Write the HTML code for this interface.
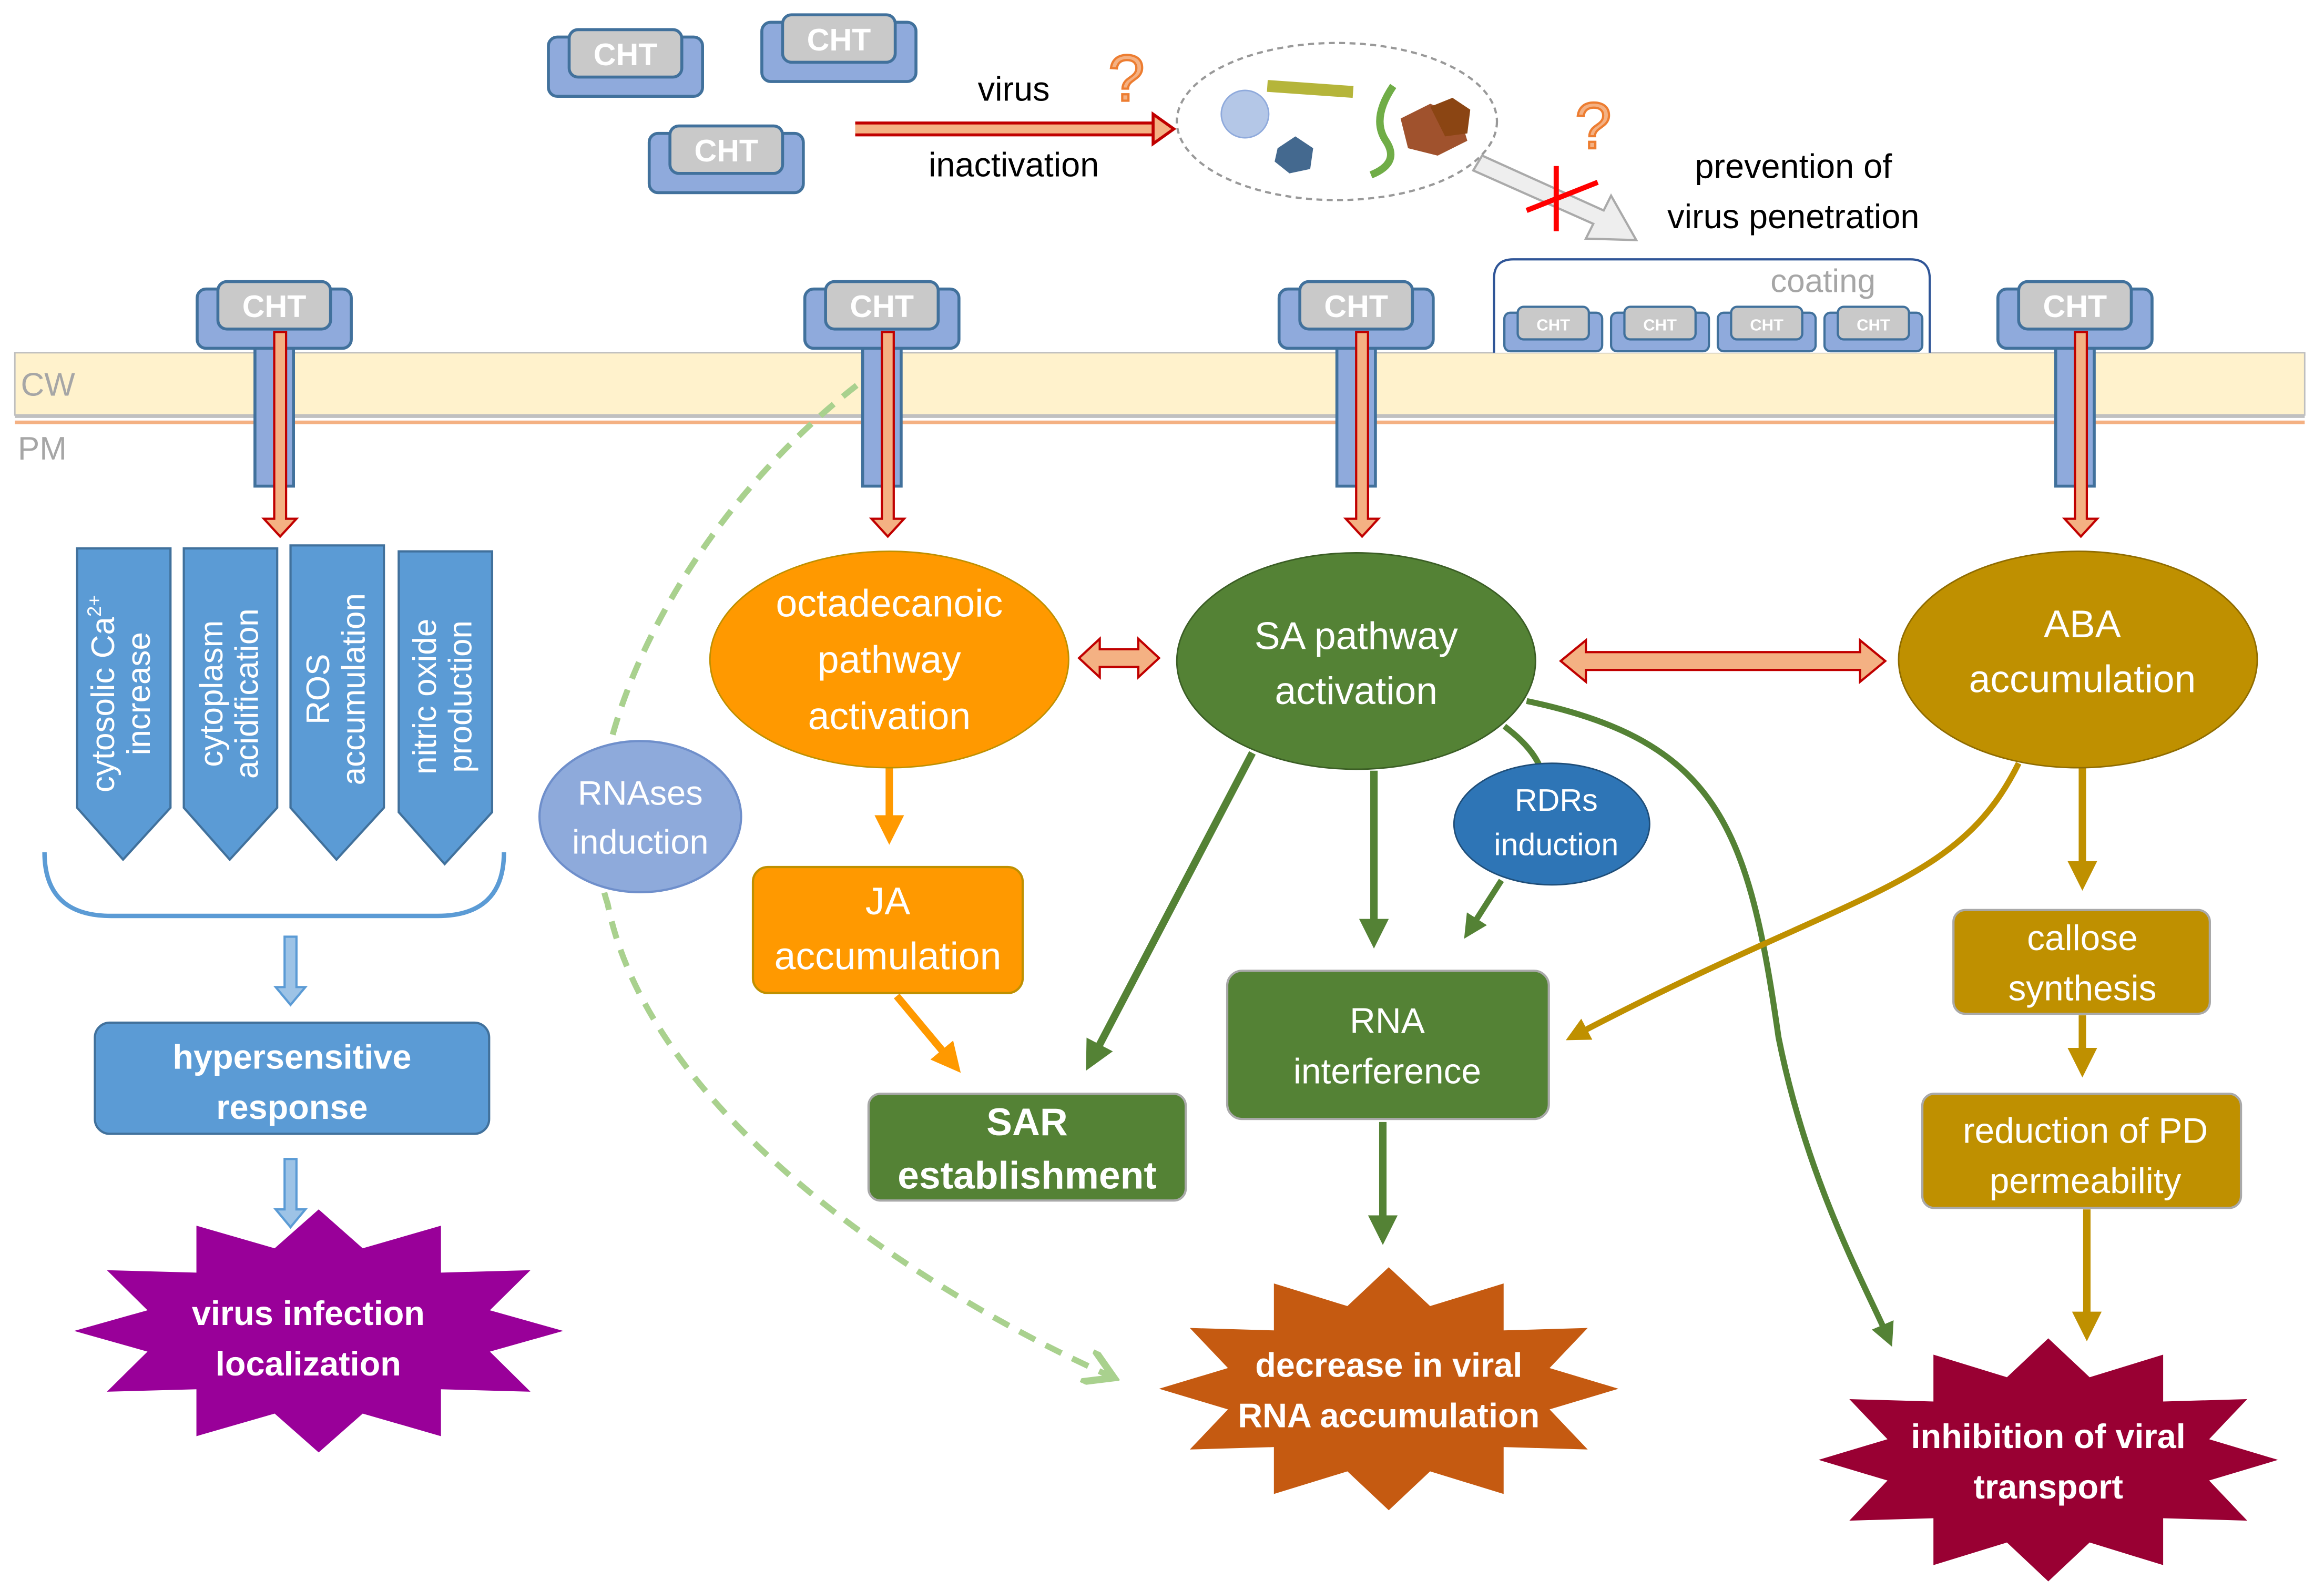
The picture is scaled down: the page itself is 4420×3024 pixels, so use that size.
<!DOCTYPE html>
<html><head><meta charset="utf-8"><style>
html,body{margin:0;padding:0;background:#fff}
svg{display:block}
text{font-family:"Liberation Sans","DejaVu Sans",sans-serif}
</style></head><body>
<svg width="4420" height="3024" viewBox="0 0 1568 1072.8" xmlns="http://www.w3.org/2000/svg">
<defs>
<marker id="agl" markerWidth="6" markerHeight="6" refX="4" refY="3" orient="auto" markerUnits="strokeWidth"><path d="M0,0 L5,3 L0,6" fill="none" stroke="#a9d18e" stroke-width="1.2"/></marker>
<marker id="agf" markerWidth="4" markerHeight="4" refX="3" refY="2" orient="auto" markerUnits="strokeWidth"><path d="M0,0 L4,2 L0,4 z" fill="#548235"/></marker>
<marker id="ayf" markerWidth="4" markerHeight="4" refX="3" refY="2" orient="auto" markerUnits="strokeWidth"><path d="M0,0 L4,2 L0,4 z" fill="#bf9000"/></marker>
<marker id="aof" markerWidth="4" markerHeight="4" refX="3" refY="2" orient="auto" markerUnits="strokeWidth"><path d="M0,0 L4,2 L0,4 z" fill="#ff9900"/></marker>
<g id="star"><polygon points="1,0 .7,.17 .866,.5 .5,.48 .5,.866 .18,.68 0,1 -.18,.68 -.5,.866 -.5,.48 -.866,.5 -.7,.17 -1,0 -.7,-.17 -.866,-.5 -.5,-.48 -.5,-.866 -.18,-.68 0,-1 .18,-.68 .5,-.866 .5,-.48 .866,-.5 .7,-.17"/></g>
<g id="cht"><rect x="-52" y="5" width="104" height="40" rx="6" fill="#8faadc" stroke="#41719c" stroke-width="2"/><rect x="-38" y="0" width="76" height="32" rx="6" fill="#c9c9c9" stroke="#41719c" stroke-width="2"/><text x="0" y="24" text-anchor="middle" font-size="21" font-weight="bold" fill="#fff">CHT</text></g>
<g id="chts"><rect x="-33" y="4" width="66" height="26" rx="4" fill="#8faadc" stroke="#41719c" stroke-width="1.5"/><rect x="-24" y="0" width="48" height="22" rx="4" fill="#c9c9c9" stroke="#41719c" stroke-width="1.5"/><text x="0" y="16" text-anchor="middle" font-size="11" font-weight="bold" fill="#fff">CHT</text></g>
</defs>

<use href="#cht" x="422" y="20"/>
<use href="#cht" x="566" y="10"/>
<use href="#cht" x="490" y="85"/>

<line x1="577" y1="87" x2="780" y2="87" stroke="#c00000" stroke-width="10"/>
<line x1="577" y1="87" x2="780" y2="87" stroke="#f4b183" stroke-width="6"/>
<polygon points="778,77 792,87 778,97" fill="#f4b183" stroke="#c00000" stroke-width="2"/>
<text x="684" y="68" text-anchor="middle" font-size="23">virus</text>
<text x="684" y="119" text-anchor="middle" font-size="23">inactivation</text>
<text x="760" y="68" text-anchor="middle" font-size="44" fill="#f4b183" stroke="#ed7d31" stroke-width="1.5">?</text>
<text x="1075" y="100" text-anchor="middle" font-size="44" fill="#f4b183" stroke="#ed7d31" stroke-width="1.5">?</text>

<ellipse cx="902" cy="82" rx="108" ry="53" fill="none" stroke="#999" stroke-width="1.5" stroke-dasharray="4,3"/>
<circle cx="840" cy="77" r="16" fill="#b4c7e7" stroke="#8faadc"/>
<polygon points="862,100 874,92 886,100 884,114 870,117 860,109" fill="#44698f"/>
<rect x="855" y="56" width="58" height="8" fill="#b5b53a" transform="rotate(4 884 60)"/>
<path d="M940,58 Q925,80 935,95 Q945,110 925,118" fill="none" stroke="#70ad47" stroke-width="5"/>
<polygon points="945,80 965,70 985,78 990,95 970,105 950,100" fill="#a0522d"/>
<polygon points="965,72 980,66 992,74 990,90 975,92" fill="#8b4513"/>

<polygon points="1000,105 1082,142 1087,132 1104,162 1070,161 1075,151 994,115" fill="#eee" stroke="#aaa" stroke-width="1.5"/>
<line x1="1030" y1="142" x2="1078" y2="123" stroke="#ff0000" stroke-width="3.5"/>
<line x1="1050" y1="112" x2="1050" y2="156" stroke="#ff0000" stroke-width="3.5"/>
<text x="1210" y="120" text-anchor="middle" font-size="23">prevention of</text>
<text x="1210" y="154" text-anchor="middle" font-size="23">virus penetration</text>

<rect x="10" y="238" width="1545" height="42" fill="#fff2cc" stroke="#bfbfbf" stroke-width="1"/>
<line x1="10" y1="281" x2="1555" y2="281" stroke="#c0c0c0" stroke-width="2"/>
<line x1="10" y1="285" x2="1555" y2="285" stroke="#f4b183" stroke-width="2.5"/>
<text x="14" y="267" font-size="22" fill="#a6a6a6">CW</text>
<text x="12" y="310" font-size="22" fill="#a6a6a6">PM</text>

<path d="M1008,238 L1008,188 Q1008,175 1021,175 L1289,175 Q1302,175 1302,188 L1302,238" fill="#fff" stroke="#2f5597" stroke-width="1.5"/>
<text x="1230" y="197" text-anchor="middle" font-size="22" fill="#a6a6a6">coating</text>
<use href="#chts" x="1048" y="207"/>
<use href="#chts" x="1120" y="207"/>
<use href="#chts" x="1192" y="207"/>
<use href="#chts" x="1264" y="207"/>

<g>
<rect x="172" y="222" width="26" height="106" fill="#8faadc" stroke="#41719c" stroke-width="2"/>
<rect x="582" y="222" width="26" height="106" fill="#8faadc" stroke="#41719c" stroke-width="2"/>
<rect x="902" y="222" width="26" height="106" fill="#8faadc" stroke="#41719c" stroke-width="2"/>
<rect x="1387" y="222" width="26" height="106" fill="#8faadc" stroke="#41719c" stroke-width="2"/>
</g>
<use href="#cht" x="185" y="190"/>
<use href="#cht" x="595" y="190"/>
<use href="#cht" x="915" y="190"/>
<use href="#cht" x="1400" y="190"/>
<g fill="#f4b183" stroke="#c00000" stroke-width="1.5">
<path d="M182,224 h8 v126 h7 l-11,12 l-11,-12 h7 z" transform="translate(3,0)"/>
<path d="M592,224 h8 v126 h7 l-11,12 l-11,-12 h7 z" transform="translate(3,0)"/>
<path d="M912,224 h8 v126 h7 l-11,12 l-11,-12 h7 z" transform="translate(3,0)"/>
<path d="M1397,224 h8 v126 h7 l-11,12 l-11,-12 h7 z" transform="translate(3,0)"/>
</g>

<g fill="#5b9bd5" stroke="#41719c" stroke-width="1.5">
<polygon points="52,370 115,370 115,545 83,580 52,545"/>
<polygon points="124,370 187,370 187,545 155,580 124,545"/>
<polygon points="196,368 259,368 259,545 227,580 196,545"/>
<polygon points="269,372 332,372 332,548 300,583 269,548"/>
</g>
<g fill="#fff" font-size="22" text-anchor="middle">
<text transform="translate(77,468) rotate(-90)">cytosolic Ca<tspan font-size="13" dy="-9">2+</tspan></text>
<text transform="translate(101,468) rotate(-90)">increase</text>
<text transform="translate(150,468) rotate(-90)">cytoplasm</text>
<text transform="translate(174,468) rotate(-90)">acidification</text>
<text transform="translate(222,465) rotate(-90)">ROS</text>
<text transform="translate(246,465) rotate(-90)">accumulation</text>
<text transform="translate(294,470) rotate(-90)">nitric oxide</text>
<text transform="translate(318,470) rotate(-90)">production</text>
</g>
<path d="M30,575 Q30,618 75,618 L295,618 Q340,618 340,575" fill="none" stroke="#5b9bd5" stroke-width="3"/>

<path d="M192,632 h8 v34 h6 l-10,12 l-10,-12 h6 z" fill="#9dc3e6" stroke="#5b9bd5" stroke-width="1.5"/>
<path d="M192,782 h8 v34 h6 l-10,12 l-10,-12 h6 z" fill="#9dc3e6" stroke="#5b9bd5" stroke-width="1.5"/>
<rect x="64" y="690" width="266" height="75" rx="10" fill="#5b9bd5" stroke="#41719c" stroke-width="1.5"/>
<text x="197" y="721" text-anchor="middle" font-size="23" font-weight="bold" fill="#fff">hypersensitive</text>
<text x="197" y="755" text-anchor="middle" font-size="23" font-weight="bold" fill="#fff">response</text>

<use href="#star" transform="translate(215,898) scale(165,82)" fill="#990099"/>
<text x="208" y="894" text-anchor="middle" font-size="23" font-weight="bold" fill="#fff">virus infection</text>
<text x="208" y="928" text-anchor="middle" font-size="23" font-weight="bold" fill="#fff">localization</text>
<use href="#star" transform="translate(937,937) scale(155,82)" fill="#c55a11"/>
<text x="937" y="929" text-anchor="middle" font-size="23" font-weight="bold" fill="#fff">decrease in viral</text>
<text x="937" y="963" text-anchor="middle" font-size="23" font-weight="bold" fill="#fff">RNA accumulation</text>
<use href="#star" transform="translate(1382,985) scale(155,82)" fill="#990033"/>
<text x="1382" y="977" text-anchor="middle" font-size="23" font-weight="bold" fill="#fff">inhibition of viral</text>
<text x="1382" y="1011" text-anchor="middle" font-size="23" font-weight="bold" fill="#fff">transport</text>

<path d="M578,260 C450,360 380,520 410,610 C440,760 640,880 748,928" fill="none" stroke="#a9d18e" stroke-width="4" stroke-dasharray="12,8" marker-end="url(#agl)"/>
<ellipse cx="432" cy="551" rx="68" ry="51" fill="#8eaadb" stroke="#6f8fcb" stroke-width="1.5"/>
<text x="432" y="543" text-anchor="middle" font-size="23" fill="#fff">RNAses</text>
<text x="432" y="576" text-anchor="middle" font-size="23" fill="#fff">induction</text>

<line x1="600" y1="518" x2="600" y2="565" stroke="#ff9900" stroke-width="5" marker-end="url(#aof)"/>
<line x1="605" y1="672" x2="645" y2="720" stroke="#ff9900" stroke-width="5" marker-end="url(#aof)"/>
<line x1="845" y1="508" x2="735" y2="718" stroke="#548235" stroke-width="5" marker-end="url(#agf)"/>
<line x1="927" y1="520" x2="927" y2="635" stroke="#548235" stroke-width="5" marker-end="url(#agf)"/>
<path d="M1015,490 Q1035,505 1040,520" fill="none" stroke="#548235" stroke-width="4"/>
<line x1="1013" y1="594" x2="990" y2="630" stroke="#548235" stroke-width="4" marker-end="url(#agf)"/>
<line x1="933" y1="757" x2="933" y2="835" stroke="#548235" stroke-width="5" marker-end="url(#agf)"/>
<path d="M1030,473 C1160,500 1180,560 1200,700 C1220,800 1260,870 1275,905" fill="none" stroke="#548235" stroke-width="4" marker-end="url(#agf)"/>
<path d="M1362,515 C1320,600 1250,600 1060,700" fill="none" stroke="#bf9000" stroke-width="4" marker-end="url(#ayf)"/>
<line x1="1405" y1="518" x2="1405" y2="596" stroke="#bf9000" stroke-width="5" marker-end="url(#ayf)"/>
<line x1="1405" y1="685" x2="1405" y2="722" stroke="#bf9000" stroke-width="5" marker-end="url(#ayf)"/>
<line x1="1408" y1="816" x2="1408" y2="900" stroke="#bf9000" stroke-width="5" marker-end="url(#ayf)"/>

<polygon points="728,444 742,431 742,438 768,438 768,431 782,444 768,457 768,450 742,450 742,457" fill="#f4b183" stroke="#c00000" stroke-width="1.5"/>
<polygon points="1053,446 1070,432 1070,440 1255,440 1255,432 1272,446 1255,460 1255,452 1070,452 1070,460" fill="#f4b183" stroke="#c00000" stroke-width="1.5"/>

<ellipse cx="600" cy="445" rx="121" ry="73" fill="#ff9900" stroke="#bf9000" stroke-width="1"/>
<text x="600" y="416" text-anchor="middle" font-size="26" fill="#fff">octadecanoic</text>
<text x="600" y="454" text-anchor="middle" font-size="26" fill="#fff">pathway</text>
<text x="600" y="492" text-anchor="middle" font-size="26" fill="#fff">activation</text>
<ellipse cx="915" cy="446" rx="121" ry="73" fill="#548235" stroke="#3b5e25" stroke-width="1"/>
<text x="915" y="438" text-anchor="middle" font-size="26" fill="#fff">SA pathway</text>
<text x="915" y="475" text-anchor="middle" font-size="26" fill="#fff">activation</text>
<ellipse cx="1402" cy="445" rx="121" ry="73" fill="#bf9000" stroke="#8f6c00" stroke-width="1"/>
<text x="1405" y="430" text-anchor="middle" font-size="26" fill="#fff">ABA</text>
<text x="1405" y="467" text-anchor="middle" font-size="26" fill="#fff">accumulation</text>
<ellipse cx="1047" cy="556" rx="66" ry="41" fill="#2e75b6" stroke="#1f4e79" stroke-width="1"/>
<text x="1050" y="547" text-anchor="middle" font-size="21" fill="#fff">RDRs</text>
<text x="1050" y="577" text-anchor="middle" font-size="21" fill="#fff">induction</text>

<rect x="508" y="585" width="182" height="85" rx="10" fill="#ff9900" stroke="#bf9000" stroke-width="1.5"/>
<text x="599" y="617" text-anchor="middle" font-size="26" fill="#fff">JA</text>
<text x="599" y="654" text-anchor="middle" font-size="26" fill="#fff">accumulation</text>
<rect x="586" y="738" width="214" height="72" rx="8" fill="#548235" stroke="#a9a9a9" stroke-width="1.5"/>
<text x="693" y="766" text-anchor="middle" font-size="26" font-weight="bold" fill="#fff">SAR</text>
<text x="693" y="802" text-anchor="middle" font-size="26" font-weight="bold" fill="#fff">establishment</text>
<rect x="828" y="655" width="217" height="100" rx="10" fill="#548235" stroke="#a9a9a9" stroke-width="1.5"/>
<text x="936" y="697" text-anchor="middle" font-size="24" fill="#fff">RNA</text>
<text x="936" y="731" text-anchor="middle" font-size="24" fill="#fff">interference</text>
<rect x="1318" y="614" width="173" height="70" rx="8" fill="#bf9000" stroke="#a9a9a9" stroke-width="1.5"/>
<text x="1405" y="641" text-anchor="middle" font-size="24" fill="#fff">callose</text>
<text x="1405" y="675" text-anchor="middle" font-size="24" fill="#fff">synthesis</text>
<rect x="1297" y="738" width="215" height="77" rx="8" fill="#bf9000" stroke="#a9a9a9" stroke-width="1.5"/>
<text x="1407" y="771" text-anchor="middle" font-size="24" fill="#fff">reduction of PD</text>
<text x="1407" y="805" text-anchor="middle" font-size="24" fill="#fff">permeability</text>
</svg>
</body></html>
